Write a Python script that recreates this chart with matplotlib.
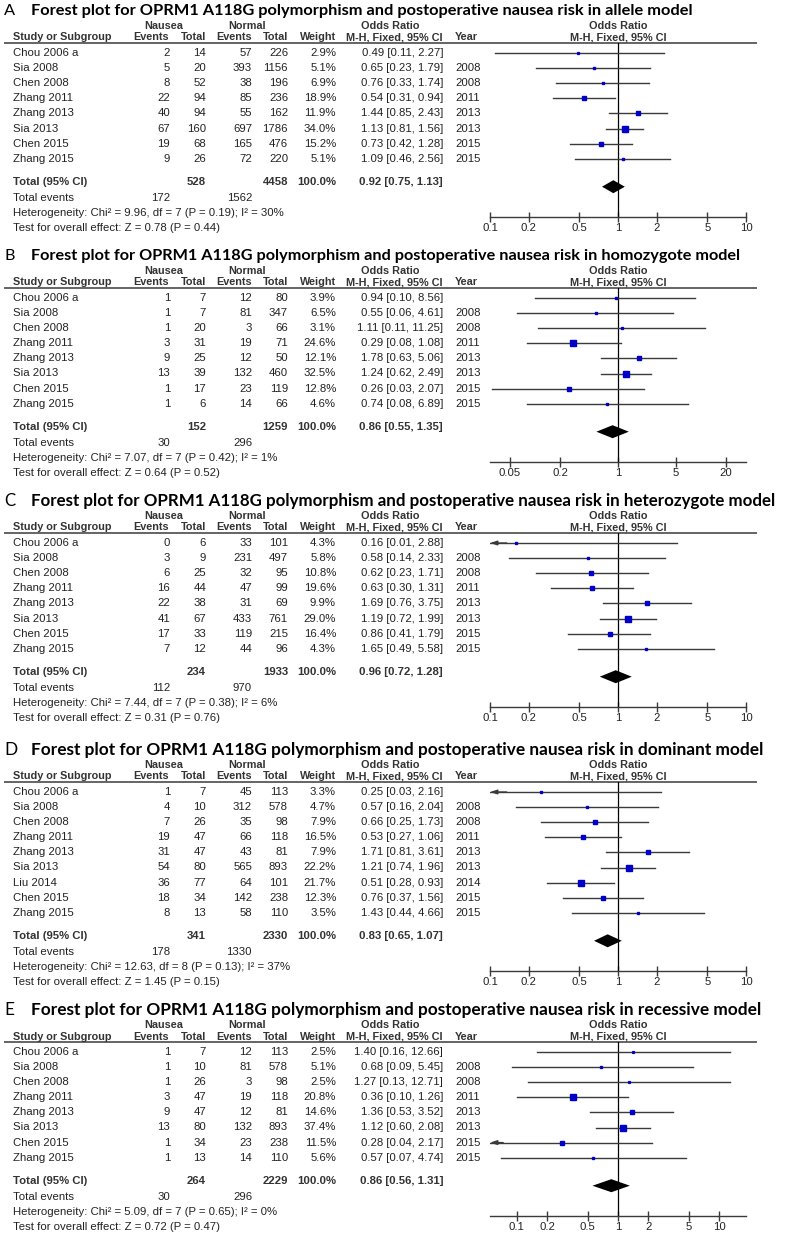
import numpy as np
import matplotlib.pyplot as plt
from matplotlib.ticker import NullLocator

# ---- data ----
studies8 = ["Chou 2006 a", "Sia 2008", "Chen 2008", "Zhang 2011", "Zhang 2013",
            "Sia 2013", "Chen 2015", "Zhang 2015"]
studies9 = ["Chou 2006 a", "Sia 2008", "Chen 2008", "Zhang 2011", "Zhang 2013",
            "Sia 2013", "Liu 2014", "Chen 2015", "Zhang 2015"]
years8 = ["", "2008", "2008", "2011", "2013", "2013", "2015", "2015"]
years9 = ["", "2008", "2008", "2011", "2013", "2013", "2014", "2015", "2015"]

# A - allele model
a_ev_n = [2, 5, 8, 22, 40, 67, 19, 9]
a_tot_n = [14, 20, 52, 94, 94, 160, 68, 26]
a_ev_c = [57, 393, 38, 85, 55, 697, 165, 72]
a_tot_c = [226, 1156, 196, 236, 162, 1786, 476, 220]
a_weight = [2.9, 5.1, 6.9, 18.9, 11.9, 34.0, 15.2, 5.1]
a_or = [0.49, 0.65, 0.76, 0.54, 1.44, 1.13, 0.73, 1.09]
a_lo = [0.11, 0.23, 0.33, 0.31, 0.85, 0.81, 0.42, 0.46]
a_hi = [2.27, 1.79, 1.74, 0.94, 2.43, 1.56, 1.28, 2.56]
a_total = [528, 4458, 0.92, 0.75, 1.13, 172, 1562]
a_het = "Heterogeneity: Chi² = 9.96, df = 7 (P = 0.19); I² = 30%"
a_test = "Test for overall effect: Z = 0.78 (P = 0.44)"
a_ticks = [0.1, 0.2, 0.5, 1, 2, 5, 10]

# B - homozygote model
b_ev_n = [1, 1, 1, 3, 9, 13, 1, 1]
b_tot_n = [7, 7, 20, 31, 25, 39, 17, 6]
b_ev_c = [12, 81, 3, 19, 12, 132, 23, 14]
b_tot_c = [80, 347, 66, 71, 50, 460, 119, 66]
b_weight = [3.9, 6.5, 3.1, 24.6, 12.1, 32.5, 12.8, 4.6]
b_or = [0.94, 0.55, 1.11, 0.29, 1.78, 1.24, 0.26, 0.74]
b_lo = [0.10, 0.06, 0.11, 0.08, 0.63, 0.62, 0.03, 0.08]
b_hi = [8.56, 4.61, 11.25, 1.08, 5.06, 2.49, 2.07, 6.89]
b_total = [152, 1259, 0.86, 0.55, 1.35, 30, 296]
b_het = "Heterogeneity: Chi² = 7.07, df = 7 (P = 0.42); I² = 1%"
b_test = "Test for overall effect: Z = 0.64 (P = 0.52)"
b_ticks = [0.05, 0.2, 1, 5, 20]

# C - heterozygote model
c_ev_n = [0, 3, 6, 16, 22, 41, 17, 7]
c_tot_n = [6, 9, 25, 44, 38, 67, 33, 12]
c_ev_c = [33, 231, 32, 47, 31, 433, 119, 44]
c_tot_c = [101, 497, 95, 99, 69, 761, 215, 96]
c_weight = [4.3, 5.8, 10.8, 19.6, 9.9, 29.0, 16.4, 4.3]
c_or = [0.16, 0.58, 0.62, 0.63, 1.69, 1.19, 0.86, 1.65]
c_lo = [0.01, 0.14, 0.23, 0.30, 0.76, 0.72, 0.41, 0.49]
c_hi = [2.88, 2.33, 1.71, 1.31, 3.75, 1.99, 1.79, 5.58]
c_total = [234, 1933, 0.96, 0.72, 1.28, 112, 970]
c_het = "Heterogeneity: Chi² = 7.44, df = 7 (P = 0.38); I² = 6%"
c_test = "Test for overall effect: Z = 0.31 (P = 0.76)"
c_ticks = [0.1, 0.2, 0.5, 1, 2, 5, 10]

# D - dominant model
d_ev_n = [1, 4, 7, 19, 31, 54, 36, 18, 8]
d_tot_n = [7, 10, 26, 47, 47, 80, 77, 34, 13]
d_ev_c = [45, 312, 35, 66, 43, 565, 64, 142, 58]
d_tot_c = [113, 578, 98, 118, 81, 893, 101, 238, 110]
d_weight = [3.3, 4.7, 7.9, 16.5, 7.9, 22.2, 21.7, 12.3, 3.5]
d_or = [0.25, 0.57, 0.66, 0.53, 1.71, 1.21, 0.51, 0.76, 1.43]
d_lo = [0.03, 0.16, 0.25, 0.27, 0.81, 0.74, 0.28, 0.37, 0.44]
d_hi = [2.16, 2.04, 1.73, 1.06, 3.61, 1.96, 0.93, 1.56, 4.66]
d_total = [341, 2330, 0.83, 0.65, 1.07, 178, 1330]
d_het = "Heterogeneity: Chi² = 12.63, df = 8 (P = 0.13); I² = 37%"
d_test = "Test for overall effect: Z = 1.45 (P = 0.15)"
d_ticks = [0.1, 0.2, 0.5, 1, 2, 5, 10]

# E - recessive model
e_ev_n = [1, 1, 1, 3, 9, 13, 1, 1]
e_tot_n = [7, 10, 26, 47, 47, 80, 34, 13]
e_ev_c = [12, 81, 3, 19, 12, 132, 23, 14]
e_tot_c = [113, 578, 98, 118, 81, 893, 238, 110]
e_weight = [2.5, 5.1, 2.5, 20.8, 14.6, 37.4, 11.5, 5.6]
e_or = [1.40, 0.68, 1.27, 0.36, 1.36, 1.12, 0.28, 0.57]
e_lo = [0.16, 0.09, 0.13, 0.10, 0.53, 0.60, 0.04, 0.07]
e_hi = [12.66, 5.45, 12.71, 1.26, 3.52, 2.08, 2.17, 4.74]
e_total = [264, 2229, 0.86, 0.56, 1.31, 30, 296]
e_het = "Heterogeneity: Chi² = 5.09, df = 7 (P = 0.65); I² = 0%"
e_test = "Test for overall effect: Z = 0.72 (P = 0.47)"
e_ticks = [0.1, 0.2, 0.5, 1, 2, 5, 10]

TITLE = "Forest plot for OPRM1 A118G polymorphism and postoperative nausea risk in {} model"

panels = [
    dict(letter="A", model="allele", study=studies8, year=years8, ev_n=a_ev_n, tot_n=a_tot_n,
         ev_c=a_ev_c, tot_c=a_tot_c, w=a_weight, orr=a_or, lo=a_lo, hi=a_hi,
         total=a_total, het=a_het, test=a_test, ticks=a_ticks, half=1.0, r0=53, tfs=11.75),
    dict(letter="B", model="homozygote", study=studies8, year=years8, ev_n=b_ev_n, tot_n=b_tot_n,
         ev_c=b_ev_c, tot_c=b_tot_c, w=b_weight, orr=b_or, lo=b_lo, hi=b_hi,
         total=b_total, het=b_het, test=b_test, ticks=b_ticks, half=1.542, r0=298, tfs=11.7),
    dict(letter="C", model="heterozygote", study=studies8, year=years8, ev_n=c_ev_n, tot_n=c_tot_n,
         ev_c=c_ev_c, tot_c=c_tot_c, w=c_weight, orr=c_or, lo=c_lo, hi=c_hi,
         total=c_total, het=c_het, test=c_test, ticks=c_ticks, half=1.0, r0=543, tfs=12.2),
    dict(letter="D", model="dominant", study=studies9, year=years9, ev_n=d_ev_n, tot_n=d_tot_n,
         ev_c=d_ev_c, tot_c=d_tot_c, w=d_weight, orr=d_or, lo=d_lo, hi=d_hi,
         total=d_total, het=d_het, test=d_test, ticks=d_ticks, half=1.0, r0=792, tfs=12.45),
    dict(letter="E", model="recessive", study=studies8, year=years8, ev_n=e_ev_n, tot_n=e_tot_n,
         ev_c=e_ev_c, tot_c=e_tot_c, w=e_weight, orr=e_or, lo=e_lo, hi=e_hi,
         total=e_total, het=e_het, test=e_test, ticks=e_ticks, half=1.264, r0=1052, tfs=12.4),
]

W, H = 793, 1234
ROW = 15.1
BLUE = "#0000c8"
LINE = "#3a3a3a"
ARIAL = ["Liberation Sans", "DejaVu Sans"]
TFONT = ["Lato", "DejaVu Sans"]
FS = 8.2
HFS = 7.8


def fx(px):
    return px / W


def fy(py):
    return 1 - py / H


def fmt_tick(v):
    return ("%g" % v)


def draw_panel(fig, p):
    r0 = p["r0"]
    n = len(p["study"])
    last = (n - 1) * ROW
    ys = np.arange(n) * ROW
    y_tot = last + 23
    y_ev = y_tot + 16
    y_het = y_ev + 15
    y_test = y_het + 15
    y_axis = last + 58
    top, bot = -56, y_axis + 22

    # table axes (x in pixels across the whole width)
    ax = fig.add_axes([0, fy(r0 + bot), 1, (bot - top) / H])
    ax.set_xlim(0, W)
    ax.set_ylim(bot, top)
    ax.axis("off")

    txt = dict(family=ARIAL, fontsize=FS, color="#222222", va="center")
    hdr = dict(family=ARIAL, fontsize=HFS, color="#333333", va="center", fontweight="bold")
    tot = dict(family=ARIAL, fontsize=FS, color="#333333", va="center", fontweight="bold")

    ax.text(4, -42, p["letter"], family=TFONT, fontsize=p["tfs"], va="center", color="black")
    ax.text(31, -42, TITLE.format(p["model"]), family=TFONT, fontsize=p["tfs"],
            fontweight="bold", va="center", color="black")

    ax.text(164, -27, "Nausea", ha="center", **hdr)
    ax.text(247, -27, "Normal", ha="center", **hdr)
    ax.text(390, -27, "Odds Ratio", ha="center", **hdr)
    ax.text(618, -27, "Odds Ratio", ha="center", **hdr)
    ax.text(13, -15.5, "Study or Subgroup", ha="left", **hdr)
    ax.text(169, -15.5, "Events", ha="right", **hdr)
    ax.text(206, -15.5, "Total", ha="right", **hdr)
    ax.text(252, -15.5, "Events", ha="right", **hdr)
    ax.text(288, -15.5, "Total", ha="right", **hdr)
    ax.text(336, -15.5, "Weight", ha="right", **hdr)
    ax.text(443, -15.5, "M-H, Fixed, 95% CI", ha="right", **hdr)
    ax.text(455, -15.5, "Year", ha="left", **hdr)
    ax.text(618, -15.5, "M-H, Fixed, 95% CI", ha="center", **hdr)
    ax.plot([4, 757], [-10, -10], color=LINE, lw=1.1, solid_capstyle="butt")

    for i in range(n):
        y = ys[i]
        ax.text(13, y, p["study"][i], ha="left", **txt)
        ax.text(170, y, str(p["ev_n"][i]), ha="right", **txt)
        ax.text(206, y, str(p["tot_n"][i]), ha="right", **txt)
        ax.text(252, y, str(p["ev_c"][i]), ha="right", **txt)
        ax.text(288, y, str(p["tot_c"][i]), ha="right", **txt)
        ax.text(336, y, "%.1f%%" % p["w"][i], ha="right", **txt)
        ax.text(443, y, "%.2f [%.2f, %.2f]" % (p["orr"][i], p["lo"][i], p["hi"][i]),
                ha="right", **txt)
        ax.text(455, y, p["year"][i], ha="left", **txt)

    t = p["total"]
    ax.text(13, y_tot, "Total (95% CI)", ha="left", **tot)
    ax.text(206, y_tot, str(t[0]), ha="right", **tot)
    ax.text(288, y_tot, str(t[1]), ha="right", **tot)
    ax.text(336, y_tot, "100.0%", ha="right", **tot)
    ax.text(443, y_tot, "%.2f [%.2f, %.2f]" % (t[2], t[3], t[4]), ha="right", **tot)
    ax.text(13, y_ev, "Total events", ha="left", **txt)
    ax.text(170, y_ev, str(t[5]), ha="right", **txt)
    ax.text(252, y_ev, str(t[6]), ha="right", **txt)
    ax.text(13, y_het, p["het"], ha="left", **txt)
    ax.text(13, y_test, p["test"], ha="left", **txt)

    # forest axes (log odds ratio)
    fa = fig.add_axes([fx(490), fy(r0 + y_axis), fx(746) - fx(490), (y_axis + 10) / H])
    xmin, xmax = 10 ** -p["half"], 10 ** p["half"]
    fa.set_xscale("log")
    fa.set_xlim(xmin, xmax)
    fa.set_ylim(y_axis, -10)
    fa.patch.set_alpha(0)
    for s in ["top", "left", "right"]:
        fa.spines[s].set_visible(False)
    fa.spines["bottom"].set_color(LINE)
    fa.spines["bottom"].set_linewidth(1.0)
    fa.set_yticks([])
    fa.set_xticks(p["ticks"])
    fa.set_xticklabels([fmt_tick(v) for v in p["ticks"]], family=ARIAL, fontsize=FS,
                       color="#222222")
    fa.xaxis.set_minor_locator(NullLocator())
    fa.tick_params(axis="x", direction="inout", length=7, width=1.0, color=LINE, pad=1)

    fa.axvline(1, color="black", lw=0.9)

    for i in range(n):
        y = ys[i]
        lo, hi = p["lo"][i], p["hi"][i]
        fa.plot([max(lo, xmin), min(hi, xmax)], [y, y], color=LINE, lw=1.0)
        if lo < xmin:
            fa.annotate("", xy=(xmin, y), xytext=(xmin * 1.35, y),
                        arrowprops=dict(arrowstyle="-|>,head_length=0.4,head_width=0.13",
                                        color=LINE, lw=1.0, shrinkA=0, shrinkB=0))
        fa.plot(p["orr"][i], y, "s", color=BLUE, mec=BLUE,
                ms=max(1.3, 0.8 * np.sqrt(p["w"][i])))

    yd = y_tot + 5
    fa.fill([t[3], t[2], t[4], t[2]], [yd, yd - 6.5, yd, yd + 6.5], color="black", lw=0)


fig = plt.figure(figsize=(W / 100, H / 100), dpi=100)
fig.patch.set_facecolor("white")
for p in panels:
    draw_panel(fig, p)

fig.savefig("out.png", dpi=100, facecolor="white")
